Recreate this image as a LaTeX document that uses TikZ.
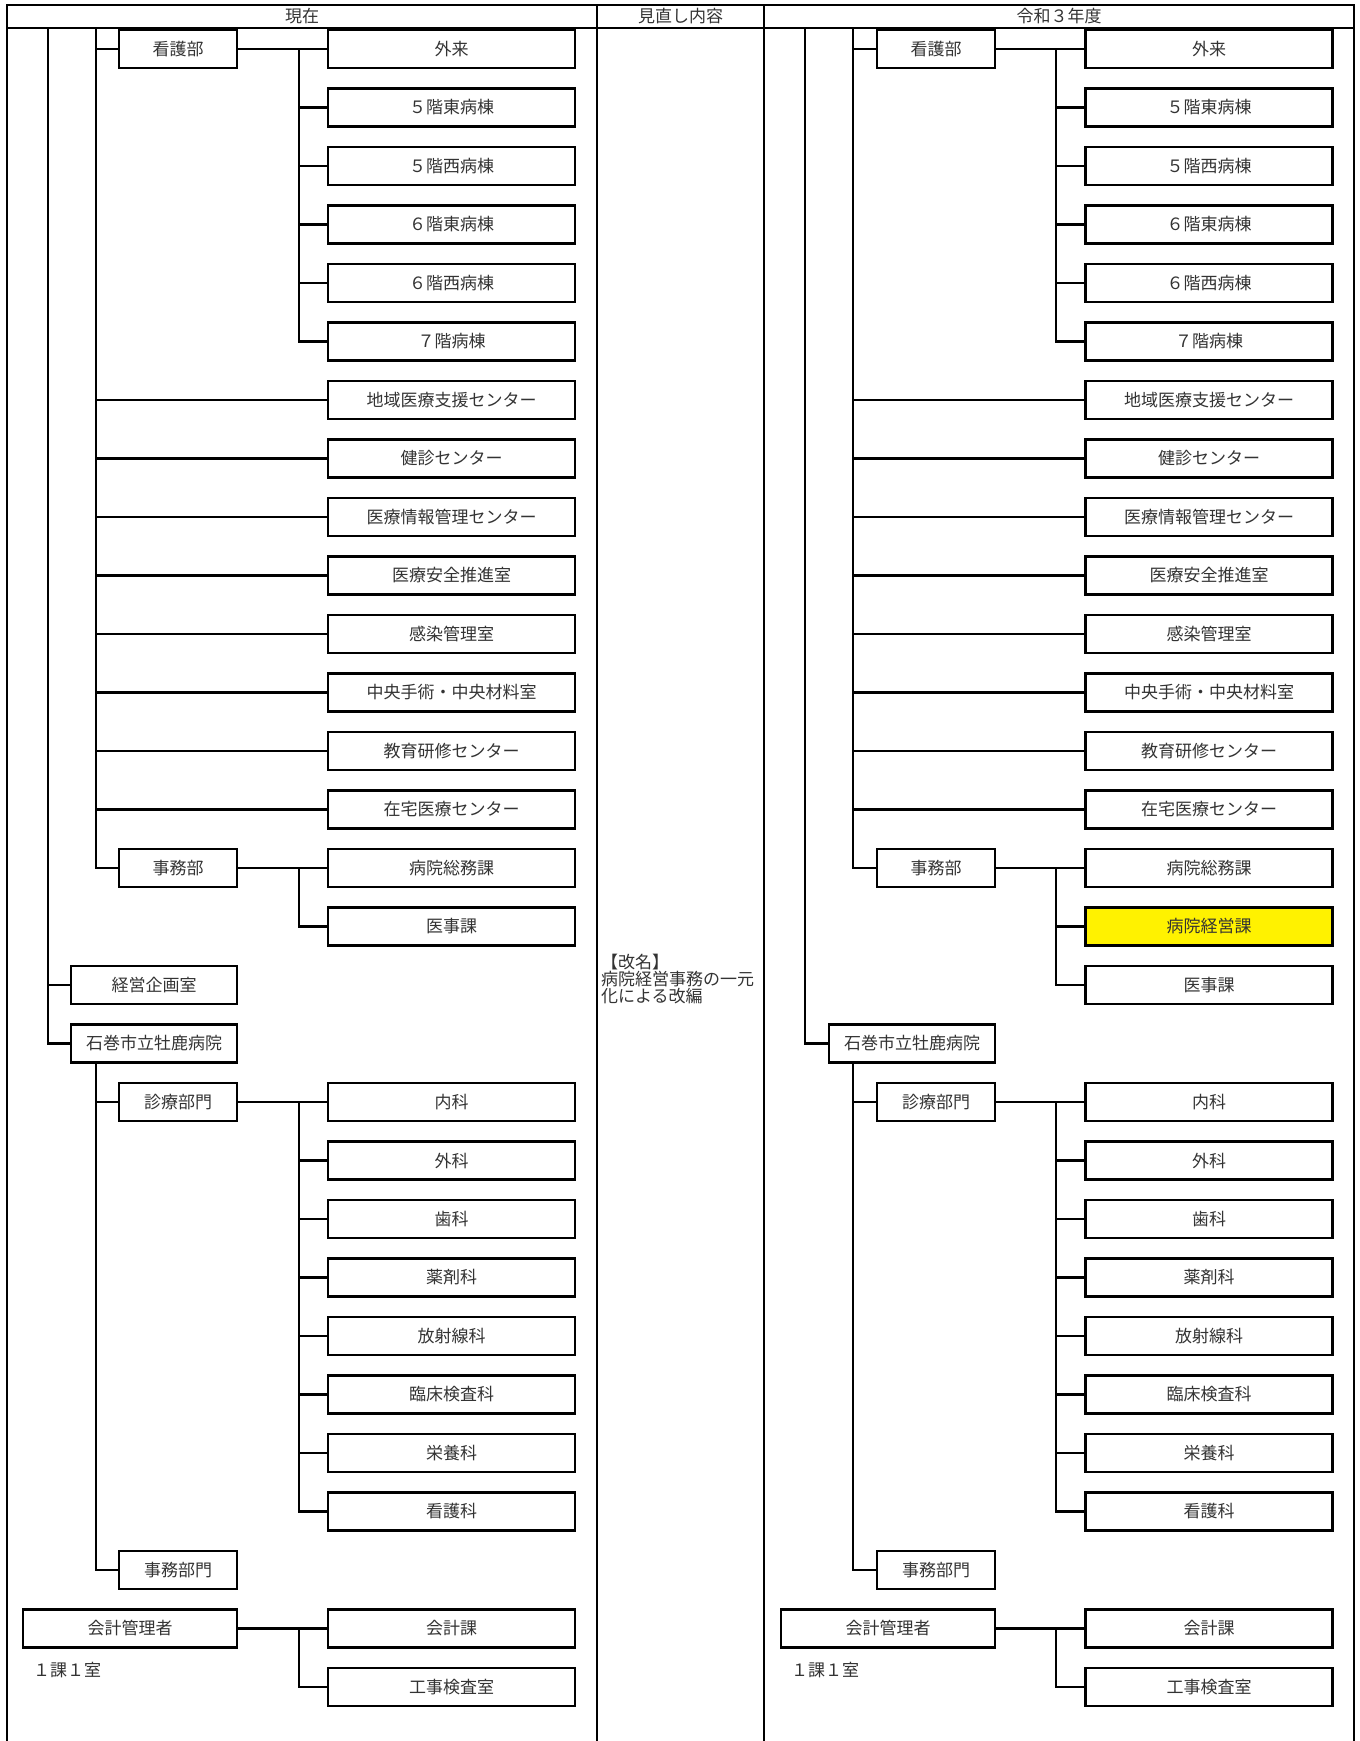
\documentclass[tikz,border=0pt]{standalone}
\usepackage{fontspec}
\setmainfont{Noto Sans CJK JP}
\newcommand{\RY}[1]{{49+58.5*#1}}
\begin{document}
\begin{tikzpicture}[x=1pt,y=-1pt,line width=2.2pt,
  bx/.style={draw, inner sep=0pt, minimum height=38pt, text=black!80, font=\fontsize{17}{17}\selectfont},
  b1/.style={bx, minimum width=214pt},
  b2/.style={bx, minimum width=118pt},
  b2w/.style={bx, minimum width=166pt},
  b3/.style={bx, minimum width=247pt},
  hl/.style={fill=yellow},
  lbl/.style={inner sep=0pt, text=black!80, font=\fontsize{17}{17}\selectfont}]
\useasboundingbox (0,0) rectangle (1360,1741);
% table frame
\draw (7,1760) -- (7,5) -- (1354,5) -- (1354,1760);
\draw (7,28) -- (1354,28);
\draw (597,5) -- (597,1760);
\draw (764,5) -- (764,1760);
\node[lbl] (hgen) at (302,16.5) {現在};
\node[lbl] (hmin) at (680.5,16.5) {見直し内容};
\node[lbl] (hrei) at (1059,16.5) {令和３年度};

% ================= LEFT (現在) =================
\coordinate (LT1) at (48,28);
\coordinate (LT2) at (96,28);
\coordinate (LV) at (299,28);
\node[b2] (Lkango) at (178,\RY{0}) {看護部};
\node[b3] (Lgairai) at (451.5,\RY{0}) {外来};
\node[b3] (L5e) at (451.5,\RY{1}) {５階東病棟};
\node[b3] (L5w) at (451.5,\RY{2}) {５階西病棟};
\node[b3] (L6e) at (451.5,\RY{3}) {６階東病棟};
\node[b3] (L6w) at (451.5,\RY{4}) {６階西病棟};
\node[b3] (L7) at (451.5,\RY{5}) {７階病棟};
\node[b3] (Lchiiki) at (451.5,\RY{6}) {地域医療支援センター};
\node[b3] (Lkenshin) at (451.5,\RY{7}) {健診センター};
\node[b3] (Ljoho) at (451.5,\RY{8}) {医療情報管理センター};
\node[b3] (Lanzen) at (451.5,\RY{9}) {医療安全推進室};
\node[b3] (Lkansen) at (451.5,\RY{10}) {感染管理室};
\node[b3] (Lchuo) at (451.5,\RY{11}) {中央手術・中央材料室};
\node[b3] (Lkyoiku) at (451.5,\RY{12}) {教育研修センター};
\node[b3] (Lzaitaku) at (451.5,\RY{13}) {在宅医療センター};
\node[b2] (Ljimu) at (178,\RY{14}) {事務部};
\node[b3] (Lsomu) at (451.5,\RY{14}) {病院総務課};
\node[b3] (Liji) at (451.5,\RY{15}) {医事課};
\node[b2w] (Lkeiei) at (154,\RY{16}) {経営企画室};
\node[b2w] (Lishi) at (154,\RY{17}) {石巻市立牡鹿病院};
\node[b2] (Lshin) at (178,\RY{18}) {診療部門};
\node[b3] (Lnaika) at (451.5,\RY{18}) {内科};
\node[b3] (Lgeka) at (451.5,\RY{19}) {外科};
\node[b3] (Lshika) at (451.5,\RY{20}) {歯科};
\node[b3] (Lyaku) at (451.5,\RY{21}) {薬剤科};
\node[b3] (Lhosha) at (451.5,\RY{22}) {放射線科};
\node[b3] (Lrinsho) at (451.5,\RY{23}) {臨床検査科};
\node[b3] (Leiyo) at (451.5,\RY{24}) {栄養科};
\node[b3] (Lkangoka) at (451.5,\RY{25}) {看護科};
\node[b2] (Ljimumon) at (178,\RY{26}) {事務部門};
\node[b1] (Lkaikei) at (130,\RY{27}) {会計管理者};
\node[b3] (Lkaikeika) at (451.5,\RY{27}) {会計課};
\node[b3] (Lkoji) at (451.5,\RY{28}) {工事検査室};
\node[lbl, anchor=west] (Lcount) at (32,1670) {１課１室};

\draw (LT1) |- (Lishi.west);
\draw (LT1 |- Lkeiei.west) -- (Lkeiei.west);
\draw (LT2) |- (Ljimu.west);
\draw (LT2 |- Lkango.west) -- (Lkango.west);
\foreach \n in {Lchiiki,Lkenshin,Ljoho,Lanzen,Lkansen,Lchuo,Lkyoiku,Lzaitaku}
  \draw (LT2 |- \n.west) -- (\n.west);
\draw (Lkango.east) -- (Lgairai.west);
\draw (LV |- Lgairai.west) |- (L7.west);
\foreach \n in {L5e,L5w,L6e,L6w}
  \draw (LV |- \n.west) -- (\n.west);
\draw (Ljimu.east) -- (Lsomu.west);
\draw (LV |- Lsomu.west) |- (Liji.west);
\draw (Lishi.south -| LT2) |- (Ljimumon.west);
\draw (LT2 |- Lshin.west) -- (Lshin.west);
\draw (Lshin.east) -- (Lnaika.west);
\draw (LV |- Lnaika.west) |- (Lkangoka.west);
\foreach \n in {Lgeka,Lshika,Lyaku,Lhosha,Lrinsho,Leiyo}
  \draw (LV |- \n.west) -- (\n.west);
\draw (Lkaikei.east) -- (Lkaikeika.west);
\draw (LV |- Lkaikeika.west) |- (Lkoji.west);

% ================= MIDDLE =================
\node[lbl, anchor=north west, align=left] (note) at (600,953) {【改名】\\病院経営事務の一元\\化による改編};

% ================= RIGHT (令和３年度) =================
\coordinate (RT1) at (805,28);
\coordinate (RT2) at (853,28);
\coordinate (RV) at (1056,28);
\node[b2] (Rkango) at (936,\RY{0}) {看護部};
\node[b3] (Rgairai) at (1209,\RY{0}) {外来};
\node[b3] (R5e) at (1209,\RY{1}) {５階東病棟};
\node[b3] (R5w) at (1209,\RY{2}) {５階西病棟};
\node[b3] (R6e) at (1209,\RY{3}) {６階東病棟};
\node[b3] (R6w) at (1209,\RY{4}) {６階西病棟};
\node[b3] (R7) at (1209,\RY{5}) {７階病棟};
\node[b3] (Rchiiki) at (1209,\RY{6}) {地域医療支援センター};
\node[b3] (Rkenshin) at (1209,\RY{7}) {健診センター};
\node[b3] (Rjoho) at (1209,\RY{8}) {医療情報管理センター};
\node[b3] (Ranzen) at (1209,\RY{9}) {医療安全推進室};
\node[b3] (Rkansen) at (1209,\RY{10}) {感染管理室};
\node[b3] (Rchuo) at (1209,\RY{11}) {中央手術・中央材料室};
\node[b3] (Rkyoiku) at (1209,\RY{12}) {教育研修センター};
\node[b3] (Rzaitaku) at (1209,\RY{13}) {在宅医療センター};
\node[b2] (Rjimu) at (936,\RY{14}) {事務部};
\node[b3] (Rsomu) at (1209,\RY{14}) {病院総務課};
\node[b3, hl] (Rkeieika) at (1209,\RY{15}) {病院経営課};
\node[b3] (Riji) at (1209,\RY{16}) {医事課};
\node[b2w] (Rishi) at (912,\RY{17}) {石巻市立牡鹿病院};
\node[b2] (Rshin) at (936,\RY{18}) {診療部門};
\node[b3] (Rnaika) at (1209,\RY{18}) {内科};
\node[b3] (Rgeka) at (1209,\RY{19}) {外科};
\node[b3] (Rshika) at (1209,\RY{20}) {歯科};
\node[b3] (Ryaku) at (1209,\RY{21}) {薬剤科};
\node[b3] (Rhosha) at (1209,\RY{22}) {放射線科};
\node[b3] (Rrinsho) at (1209,\RY{23}) {臨床検査科};
\node[b3] (Reiyo) at (1209,\RY{24}) {栄養科};
\node[b3] (Rkangoka) at (1209,\RY{25}) {看護科};
\node[b2] (Rjimumon) at (936,\RY{26}) {事務部門};
\node[b1] (Rkaikei) at (888,\RY{27}) {会計管理者};
\node[b3] (Rkaikeika) at (1209,\RY{27}) {会計課};
\node[b3] (Rkoji) at (1209,\RY{28}) {工事検査室};
\node[lbl, anchor=west] (Rcount) at (790,1670) {１課１室};

\draw (RT1) |- (Rishi.west);
\draw (RT2) |- (Rjimu.west);
\draw (RT2 |- Rkango.west) -- (Rkango.west);
\foreach \n in {Rchiiki,Rkenshin,Rjoho,Ranzen,Rkansen,Rchuo,Rkyoiku,Rzaitaku}
  \draw (RT2 |- \n.west) -- (\n.west);
\draw (Rkango.east) -- (Rgairai.west);
\draw (RV |- Rgairai.west) |- (R7.west);
\foreach \n in {R5e,R5w,R6e,R6w}
  \draw (RV |- \n.west) -- (\n.west);
\draw (Rjimu.east) -- (Rsomu.west);
\draw (RV |- Rsomu.west) |- (Riji.west);
\draw (RV |- Rkeieika.west) -- (Rkeieika.west);
\draw (Rishi.south -| RT2) |- (Rjimumon.west);
\draw (RT2 |- Rshin.west) -- (Rshin.west);
\draw (Rshin.east) -- (Rnaika.west);
\draw (RV |- Rnaika.west) |- (Rkangoka.west);
\foreach \n in {Rgeka,Rshika,Ryaku,Rhosha,Rrinsho,Reiyo}
  \draw (RV |- \n.west) -- (\n.west);
\draw (Rkaikei.east) -- (Rkaikeika.west);
\draw (RV |- Rkaikeika.west) |- (Rkoji.west);
\end{tikzpicture}
\end{document}
